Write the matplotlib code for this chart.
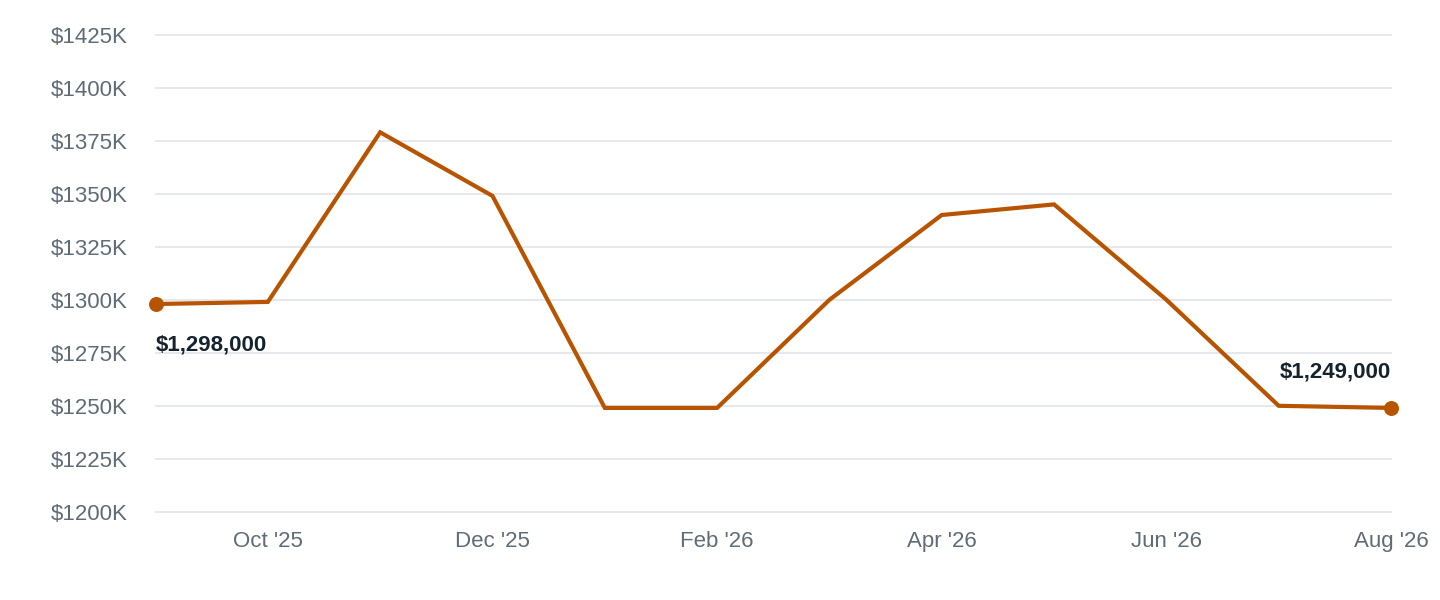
import matplotlib.pyplot as plt

plt.rcParams['font.family'] = ['Liberation Sans', 'DejaVu Sans']

months = ["Sep '25", "Oct '25", "Nov '25", "Dec '25", "Jan '26", "Feb '26",
          "Mar '26", "Apr '26", "May '26", "Jun '26", "Jul '26", "Aug '26"]
prices = [1298000, 1299000, 1379000, 1349000, 1249000, 1249000,
          1300000, 1340000, 1345000, 1300000, 1250000, 1249000]

line_color = '#b85400'
x = list(range(len(months)))

fig, ax = plt.subplots(figsize=(14.4, 6), dpi=100)
fig.subplots_adjust(left=0.108, right=0.966, top=0.942, bottom=0.147)

ax.plot(x, prices, color=line_color, linewidth=3, solid_joinstyle='miter', zorder=3)
ax.scatter([x[0], x[-1]], [prices[0], prices[-1]], s=95, color=line_color, zorder=4, clip_on=False)

ax.annotate(f"${prices[0]:,}", (x[0], prices[0]), xytext=(0, -22), textcoords='offset points',
            ha='left', va='top', fontsize=16, fontweight='bold', color='#14232e')
ax.annotate(f"${prices[-1]:,}", (x[-1], prices[-1]), xytext=(0, 18), textcoords='offset points',
            ha='right', va='bottom', fontsize=16, fontweight='bold', color='#14232e')

ax.set_xlim(0, len(months) - 1)
ax.set_ylim(1200000, 1425000)
yticks = list(range(1200000, 1425001, 25000))
ax.set_yticks(yticks)
ax.set_yticklabels([f"${v // 1000}K" for v in yticks])
ax.set_xticks(x[1::2])
ax.set_xticklabels(months[1::2])

for v in yticks:
    ax.axhline(v, color='#e3e6ea', linewidth=1.3, zorder=1, clip_on=False)
for s in ax.spines.values():
    s.set_visible(False)
ax.tick_params(axis='both', length=0, labelsize=16, colors='#5f6b76')
ax.tick_params(axis='y', pad=20)
ax.tick_params(axis='x', pad=14)

plt.savefig('out.png', dpi=100)
